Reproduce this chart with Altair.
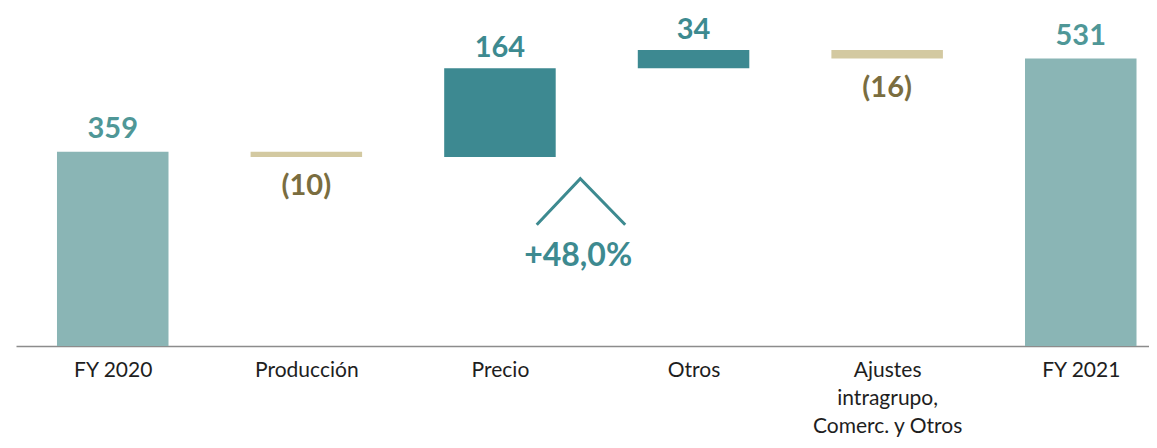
import json
import altair as alt
import pandas as pd

# ---- data ----
categories = ["FY 2020", "Producción", "Precio", "Otros",
              "Ajustes|intragrupo,|Comerc. y Otros", "FY 2021"]
values = [359, -10, 164, 34, -16, 531]
kinds = ["total", "down", "up", "up", "down", "total"]
labels = ["359", "(10)", "164", "34", "(16)", "531"]

# annotation (caret + growth text), in category-index / value units
caret_x = [2.19, 2.415, 2.647]
caret_y = [224, 309, 224]
note_x = [2.404]
note_y = [167]
note_text = ["+48,0%"]

# ---- build waterfall table ----
rows = []
running = 0
for i, (c, v, k, l) in enumerate(zip(categories, values, kinds, labels)):
    if k == "total":
        start, end = 0, v
        running = v
    else:
        start, end = running, running + v
        running = end
    rows.append(dict(idx=i, cat=c, start=start, end=end, kind=k, label=l,
                     top=max(start, end), bottom=min(start, end)))
df = pd.DataFrame(rows)

caret_df = pd.DataFrame({"x": caret_x, "y": caret_y})
note_df = pd.DataFrame({"x": note_x, "y": note_y, "t": note_text})

FONT = "Lato"
C_TOTAL = "#8ab5b5"
C_UP = "#3d8991"
C_DOWN = "#d3c9a1"
L_TOTAL = "#4f9797"
L_UP = "#3d8a90"
L_DOWN = "#7a6d3f"
HALF = 0.288  # half bar width in category units

label_lines = [c.split("|") if "|" in c else c for c in categories]
label_expr = json.dumps(label_lines, ensure_ascii=False) + "[datum.value]"

yscale = alt.Scale(domain=[0, 617], nice=False, zero=True)
xscale = alt.Scale(domain=[-0.4997, 5.3525], nice=False, zero=False)

base = alt.Chart(df)

bars = base.transform_calculate(
    x0=f"datum.idx - {HALF}", x1=f"datum.idx + {HALF}"
).mark_bar().encode(
    x=alt.X("x0:Q", scale=xscale,
            axis=alt.Axis(title=None, values=list(range(len(categories))),
                          labelExpr=label_expr, labelOverlap=False, labelFlush=False,
                          labelFont=FONT, labelFontSize=21, labelColor="#1e1e1e",
                          labelLineHeight=28, labelPadding=13, labelAngle=0,
                          ticks=False, tickSize=0, grid=False,
                          domainColor="#8c8c8c", domainWidth=1.5,
                          labelLimit=400)),
    x2="x1:Q",
    y=alt.Y("start:Q", scale=yscale, axis=None),
    y2="end:Q",
    color=alt.Color("kind:N", scale=alt.Scale(domain=["total", "up", "down"],
                                              range=[C_TOTAL, C_UP, C_DOWN]),
                    legend=None),
)

def txt(filt, color, dy, field):
    return base.transform_filter(filt).mark_text(
        font=FONT, fontSize=29, fontWeight="bold", baseline="middle",
        align="center", dy=dy, color=color
    ).encode(
        x=alt.X("idx:Q", scale=xscale),
        y=alt.Y(f"{field}:Q", scale=yscale),
        text="label:N",
    )

t_total = txt("datum.kind == 'total'", L_TOTAL, -23, "top")
t_up = txt("datum.kind == 'up'", L_UP, -20, "top")
t_down = txt("datum.kind == 'down'", L_DOWN, 29, "bottom")

caret = alt.Chart(caret_df).mark_line(color=L_UP, strokeWidth=3).encode(
    x=alt.X("x:Q", scale=xscale),
    y=alt.Y("y:Q", scale=yscale),
    order=alt.Order("x:Q"),
)
note = alt.Chart(note_df).mark_text(
    font=FONT, fontSize=32, fontWeight="bold", color=L_UP,
    baseline="middle", align="center"
).encode(
    x=alt.X("x:Q", scale=xscale),
    y=alt.Y("y:Q", scale=yscale),
    text="t:N",
)

chart = alt.layer(bars, t_total, t_up, t_down, caret, note).properties(
    width=1133, height=334,
    autosize=alt.AutoSizeParams(type="none"),
    padding={"left": 8, "top": 4, "right": 0, "bottom": 94},
).configure_view(stroke=None)

chart.save("out.html", embed_options={"renderer": "svg", "actions": False})
